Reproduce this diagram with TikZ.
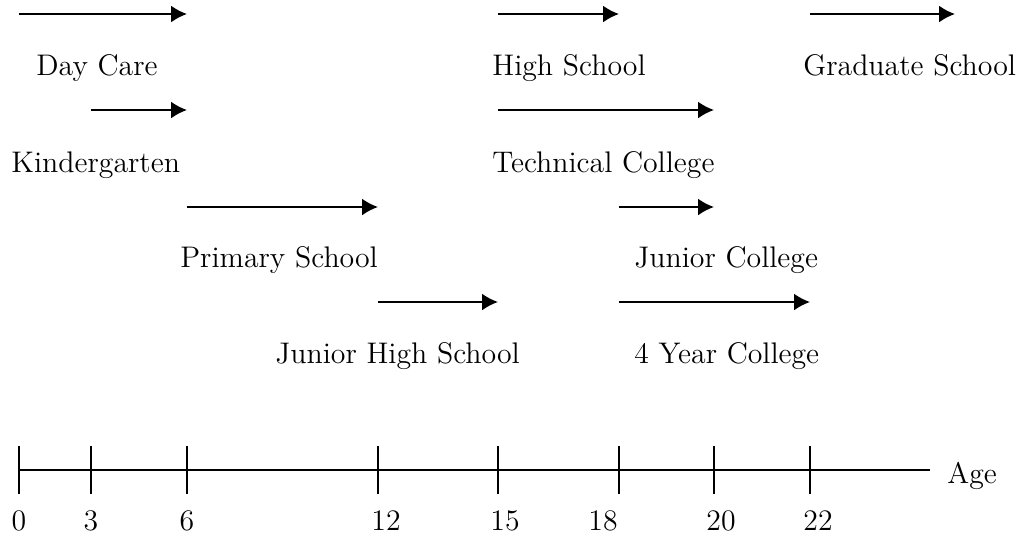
\documentclass[tikz,border=0pt]{standalone}
\usetikzlibrary{arrows.meta,calc}
\tikzstyle{every node}=[inner sep=0pt,font=\fontsize{14.9}{17}\selectfont]
\tikzstyle{stage}=[line width=1pt,-{Latex[length=8pt,width=8.5pt]}]
\tikzstyle{school}=[anchor=base west]
\tikzstyle{agetick}=[line width=1pt]

\begin{document}
\begin{tikzpicture}[x=0.5pt,y=-0.5pt]
    \useasboundingbox (0,0) rectangle (1022,538);
    % ages on the axis
    \foreach \a/\x in {0/19,3/91,6/187,12/378,15/498,18/619,20/714,22/810}
        \coordinate (a\a) at (\x,470);
    \coordinate (axisend) at (930,470);
    \coordinate (gradend) at (955,14);
    % rows of arrows
    \coordinate (r1) at (0,14);
    \coordinate (r2) at (0,110);
    \coordinate (r3) at (0,207);
    \coordinate (r4) at (0,302);

    \draw[stage] (a0 |- r1) -- (a6 |- r1);
    \node[school] (daycare) at (36,75) {Day Care};
    \draw[stage] (a3 |- r2) -- (a6 |- r2);
    \node[school] (kinder) at (11,172) {Kindergarten};
    \draw[stage] (a6 |- r3) -- (a12 |- r3);
    \node[school] (primary) at (180,267) {Primary School};
    \draw[stage] (a12 |- r4) -- (a15 |- r4);
    \node[school] (juniorhigh) at (275,363) {Junior High School};

    \draw[stage] (a15 |- r1) -- (a18 |- r1);
    \node[school] (high) at (492,75) {High School};
    \draw[stage] (a15 |- r2) -- (a20 |- r2);
    \node[school] (technical) at (492,172) {Technical College};
    \draw[stage] (a18 |- r3) -- (a20 |- r3);
    \node[school] (juniorcol) at (634,267) {Junior College};
    \draw[stage] (a18 |- r4) -- (a22 |- r4);
    \node[school] (fouryear) at (634,363) {4 Year College};
    \draw[stage] (a22 |- r1) -- (gradend);
    \node[school] (graduate) at (803,75) {Graduate School};

    % axis
    \draw[agetick] (a0) -- (axisend);
    \node[anchor=base west] (age) at (947,483) {Age};
    \foreach \a/\x in {0/19,3/91,6/187,12/386,15/505,18/603,20/721,22/818} {
        \draw[agetick] ($(a\a)+(0,-24)$) -- ($(a\a)+(0,24)$);
        \node[anchor=base] (n\a) at (\x,530) {\a};
    }
\end{tikzpicture}
\end{document}
